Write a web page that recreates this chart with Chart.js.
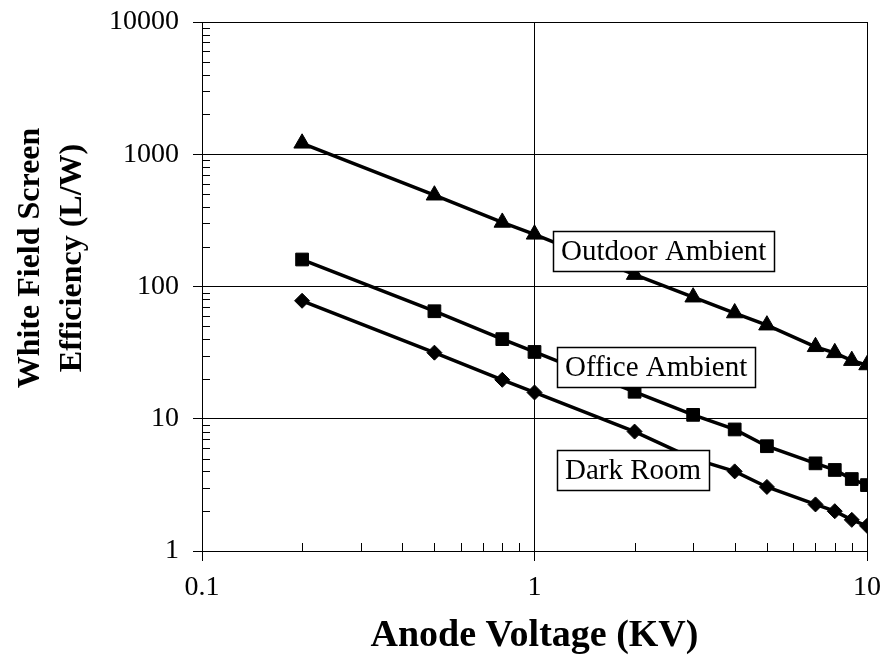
<!DOCTYPE html>
<html>
<head>
<meta charset="utf-8">
<script src="https://cdn.jsdelivr.net/npm/chart.js@4/dist/chart.umd.min.js"></script>
<style>
  body { margin: 0; background: #fff; }
</style>
</head>
<body>
<canvas id="myChart" width="893" height="658"></canvas>
<script>
// anode voltage (KV) and screen efficiency (L/W)
const voltage = [0.2, 0.5, 0.8, 1, 2, 3, 4, 5, 7, 8, 9, 10];
const outdoor = [1210, 490, 305, 248, 123, 83, 63, 51, 35, 31.5, 27.5, 25.5];
const office  = [160, 65, 40, 32, 16, 10.7, 8.3, 6.2, 4.6, 4.1, 3.5, 3.15];
const dark    = [78, 31.6, 19.7, 15.8, 8, 5.0, 4.0, 3.05, 2.25, 2.0, 1.72, 1.55];

const seriesNames = ["Outdoor Ambient", "Office Ambient", "Dark Room"];
// where the boxed labels sit, in data units (left edge, vertical middle)
const labelX = [1.14, 1.17, 1.17];
const labelY = [185, 24.8, 4.13];

const yTitle = ['White Field Screen', 'Efficiency (L/W)'];
const xTitle = 'Anode Voltage (KV)';

const xMin = 0.1, xMax = 10;
const yMin = 1, yMax = 10000;

const serif = '"Liberation Serif", "Times New Roman", serif';

function isDecade(v) {
  let l = Math.log10(v);
  return Math.abs(l - Math.round(l)) < 1e-9;
}

function logTicks(min, max) {
  let out = [];
  for (let e = Math.round(Math.log10(min)); e < Math.round(Math.log10(max)); e++) {
    for (let k = 1; k < 10; k++) {
      out.push({ value: Number((k * Math.pow(10, e)).toPrecision(6)) });
    }
  }
  out.push({ value: max });
  return out;
}

function toPoints(vals) {
  return voltage.map((v, i) => ({ x: v, y: vals[i] }));
}

const minorTicks = {
  id: 'minorTicks',
  beforeDatasetsDraw(chart) {
    const { ctx, scales: { x, y }, chartArea } = chart;
    ctx.save();
    ctx.strokeStyle = '#000';
    ctx.lineWidth = 1;
    ctx.beginPath();
    x.ticks.forEach(t => {
      if (isDecade(t.value)) return;
      let px = Math.round(x.getPixelForValue(t.value)) + 0.5;
      ctx.moveTo(px, chartArea.bottom);
      ctx.lineTo(px, chartArea.bottom - 8);
    });
    y.ticks.forEach(t => {
      if (isDecade(t.value)) return;
      let py = Math.round(y.getPixelForValue(t.value)) + 0.5;
      ctx.moveTo(chartArea.left, py);
      ctx.lineTo(chartArea.left + 8, py);
    });
    ctx.stroke();
    ctx.restore();
  }
};

const labelBoxes = {
  id: 'labelBoxes',
  afterDatasetsDraw(chart) {
    const { ctx, scales: { x, y } } = chart;
    ctx.save();
    ctx.font = '29px ' + serif;
    ctx.textBaseline = 'middle';
    for (let i = 0; i < seriesNames.length; i++) {
      let px = Math.round(x.getPixelForValue(labelX[i]));
      let py = Math.round(y.getPixelForValue(labelY[i]));
      let w = Math.round(ctx.measureText(seriesNames[i]).width) + 16;
      let h = 40;
      ctx.fillStyle = '#fff';
      ctx.fillRect(px, py - h / 2, w, h);
      ctx.strokeStyle = '#000';
      ctx.lineWidth = 1.5;
      ctx.strokeRect(px + 0.5, py - h / 2 + 0.5, w, h);
      ctx.fillStyle = '#000';
      ctx.fillText(seriesNames[i], px + 8, py + 1);
    }
    ctx.restore();
  }
};

// y title sits a bit above the middle of the axis in the original
const yTitlePlugin = {
  id: 'yTitlePlugin',
  afterDraw(chart) {
    const { ctx } = chart;
    ctx.save();
    ctx.font = 'bold 32px ' + serif;
    ctx.fillStyle = '#000';
    ctx.textAlign = 'center';
    ctx.textBaseline = 'middle';
    ctx.translate(31, 258);
    ctx.rotate(-Math.PI / 2);
    ctx.fillText(yTitle[0], 0, 0);
    ctx.fillText(yTitle[1], 0, 42);
    ctx.restore();
  }
};

function lineSet(vals, style, r) {
  return {
    data: toPoints(vals),
    borderColor: '#000',
    backgroundColor: '#000',
    borderWidth: 3.5,
    pointStyle: style,
    pointRadius: r,
    pointHoverRadius: r,
    pointBackgroundColor: '#000',
    pointBorderColor: '#000',
    pointBorderWidth: 1,
    tension: 0
  };
}

const gridColor = ctx => (ctx.tick && isDecade(ctx.tick.value)) ? '#000' : 'rgba(0,0,0,0)';

new Chart(document.getElementById('myChart'), {
  type: 'line',
  data: {
    datasets: [
      lineSet(outdoor, 'triangle', 9.5),
      lineSet(office, 'rect', 9),
      lineSet(dark, 'rectRot', 7.5)
    ]
  },
  options: {
    responsive: false,
    animation: false,
    devicePixelRatio: 1,
    layout: { padding: { left: 0, right: 26, top: 22, bottom: 0 } },
    plugins: {
      legend: { display: false },
      tooltip: { enabled: false }
    },
    scales: {
      x: {
        type: 'logarithmic',
        min: xMin,
        max: xMax,
        afterBuildTicks: scale => { scale.ticks = logTicks(xMin, xMax); },
        afterFit: scale => {
          scale.height = 107;
          scale.paddingLeft = 0;
          scale.paddingRight = 0;
        },
        border: { color: '#000', width: 1 },
        grid: { color: gridColor, tickColor: gridColor, lineWidth: 1, tickLength: 10, drawTicks: true },
        ticks: {
          autoSkip: false,
          maxRotation: 0,
          padding: 10,
          color: '#000',
          font: { family: serif, size: 28 },
          callback: v => isDecade(v) ? String(v) : ''
        },
        title: {
          display: true,
          text: xTitle,
          color: '#000',
          font: { family: serif, size: 38, weight: 'bold', lineHeight: 1.15 },
          padding: { top: 0, bottom: 0 }
        }
      },
      y: {
        type: 'logarithmic',
        min: yMin,
        max: yMax,
        afterBuildTicks: scale => { scale.ticks = logTicks(yMin, yMax); },
        afterFit: scale => {
          scale.width = 202;
          scale.paddingTop = 0;
          scale.paddingBottom = 0;
        },
        border: { color: '#000', width: 1 },
        grid: { color: gridColor, tickColor: gridColor, lineWidth: 1, tickLength: 9, drawTicks: true },
        ticks: {
          autoSkip: false,
          padding: 14,
          color: '#000',
          font: { family: serif, size: 28 },
          callback: v => isDecade(v) ? String(v) : ''
        },
        title: { display: false }
      }
    }
  },
  plugins: [minorTicks, labelBoxes, yTitlePlugin]
});
</script>
</body>
</html>
